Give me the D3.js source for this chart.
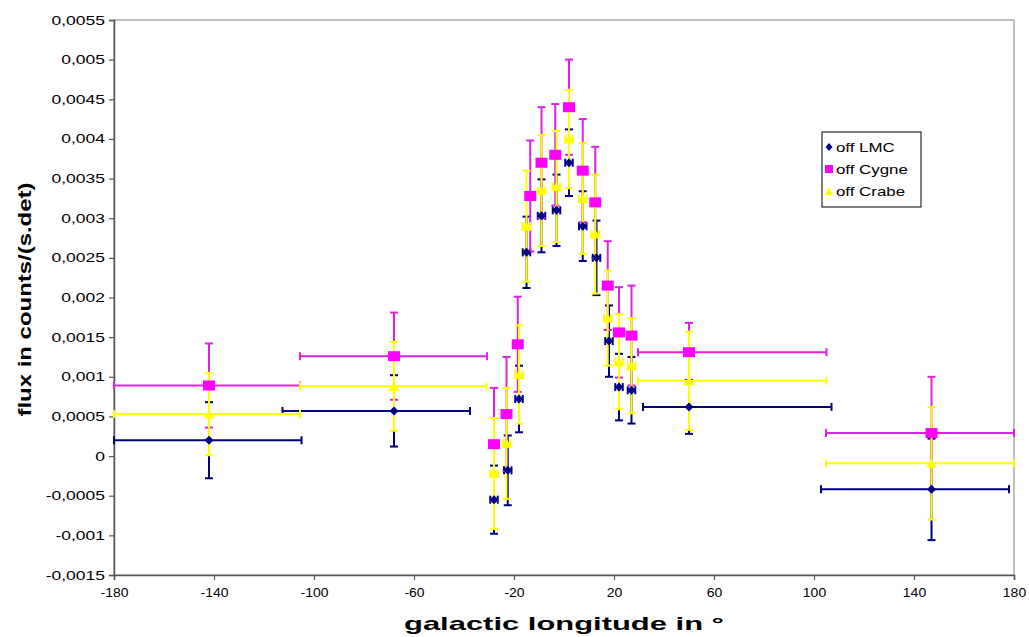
<!DOCTYPE html>
<html><head><meta charset="utf-8">
<script src="https://cdn.jsdelivr.net/npm/d3@7"></script>
<style>body{margin:0;background:#fff;} svg{display:block;}</style>
</head><body>
<svg id="chart" width="1029" height="637"></svg>
<script>
// ---- data ----
const seriesNames = ["off LMC", "off Cygne", "off Crabe"];
const xTickValues = [-180, -140, -100, -60, -20, 20, 60, 100, 140, 180];
const xTickLabels = ["-180", "-140", "-100", "-60", "-20", "20", "60", "100", "140", "180"];
const yTickValues = [-0.0015, -0.001, -0.0005, 0, 0.0005, 0.001, 0.0015, 0.002, 0.0025, 0.003, 0.0035, 0.004, 0.0045, 0.005, 0.0055];
const yTickLabels = ["-0,0015", "-0,001", "-0,0005", "0", "0,0005", "0,001", "0,0015", "0,002", "0,0025", "0,003", "0,0035", "0,004", "0,0045", "0,005", "0,0055"];

// off LMC
const lmcX    = [-142, -68, -28, -22.5, -18, -15, -9, -3, 2, 7.5, 13, 18, 22, 27, 50, 147];
const lmcXLo  = [-180, -112.6, -29.5, -24, -19.5, -16.5, -10.5, -4.5, 0.5, 6, 11.5, 16.5, 20.5, 25.5, 31.6, 102.8];
const lmcXHi  = [-105, -37.6, -26.5, -21, -16.5, -13.5, -7.5, -1.5, 3.5, 9, 14.5, 19.5, 23.5, 28.5, 107, 178];
const lmcY    = [0.0002, 0.00057, -0.00055, -0.00018, 0.00072, 0.00257, 0.00303, 0.0031, 0.0037, 0.0029, 0.0025, 0.00145, 0.00087, 0.00083, 0.00062, -0.00042];
const lmcYErr = [0.00048, 0.00045, 0.00043, 0.00044, 0.00042, 0.00045, 0.00046, 0.00045, 0.00042, 0.00044, 0.00047, 0.00045, 0.00042, 0.00042, 0.00034, 0.00064];

// off Cygne
const cygX    = [-142, -68, -28, -23, -18.5, -13.5, -9, -3.5, 2, 7.5, 12.5, 17.5, 22, 27, 50, 147];
const cygXLo  = [-180, -105.6, -29.5, -24.5, -20, -15, -10.5, -5, 0.5, 6, 11, 16, 20.5, 25.5, 29.6, 104.8];
const cygXHi  = [-105.6, -30.8, -26.5, -21.5, -17, -12, -7.5, -2, 3.5, 9, 14, 19, 23.5, 28.5, 105, 180];
const cygY    = [0.00089, 0.00126, 0.00015, 0.00053, 0.00141, 0.00328, 0.0037, 0.0038, 0.0044, 0.0036, 0.0032, 0.00215, 0.00156, 0.00152, 0.00131, 0.00029];
const cygYErr = [0.00053, 0.00055, 0.00071, 0.00072, 0.0006, 0.0007, 0.0007, 0.00064, 0.0006, 0.00065, 0.0007, 0.00056, 0.00057, 0.00063, 0.00037, 0.00071];

// off Crabe
const crbX    = [-142, -68, -28, -23, -18, -15, -9, -3, 2, 7.5, 12.5, 17.5, 22, 27, 50, 147];
const crbXLo  = [-180, -105.6, -29.5, -24.5, -19.5, -16.5, -10.5, -4.5, 0.5, 6, 11, 16, 20.5, 25.5, 29.6, 104.8];
const crbXHi  = [-105.6, -31, -26.5, -21.5, -16.5, -13.5, -7.5, -1.5, 3.5, 9, 14, 19, 23.5, 28.5, 105, 180];
const crbY    = [0.00053, 0.00088, -0.00022, 0.00016, 0.00103, 0.0029, 0.00335, 0.0034, 0.004, 0.00325, 0.0028, 0.00174, 0.00119, 0.00114, 0.00095, -0.00009];
const crbYErr = [0.00052, 0.00056, 0.0007, 0.0007, 0.00062, 0.0007, 0.0007, 0.0007, 0.00062, 0.0007, 0.00075, 0.0006, 0.0006, 0.0006, 0.00062, 0.00071];

// ---- build ----
function rows(xs, lo, hi, ys, err) {
  return xs.map((x, i) => ({x, xlo: lo[i], xhi: hi[i], y: ys[i], e: err[i]}));
}
const series = [
  {name: seriesNames[0], color: "#000080", bar: "#000080", shape: "diamond", data: rows(lmcX, lmcXLo, lmcXHi, lmcY, lmcYErr)},
  {name: seriesNames[1], color: "#FF00FF", bar: "#E020E0", shape: "square", data: rows(cygX, cygXLo, cygXHi, cygY, cygYErr)},
  {name: seriesNames[2], color: "#FFFF00", bar: "#FFFF00", shape: "triangle", data: rows(crbX, crbXLo, crbXHi, crbY, crbYErr)}
];

const svg = d3.select("#chart");
const L = 114, R = 1014, T = 20, B = 575;
const x = d3.scaleLinear().domain([-180, 180]).range([L, R]);
const y = d3.scaleLinear().domain([-0.0015, 0.0055]).range([B, T]);
const FONT = "'Liberation Sans', Arial, sans-serif";

// plot border
svg.append("rect").attr("x", L).attr("y", T).attr("width", R - L).attr("height", B - T)
  .attr("fill", "none").attr("stroke", "#808080").attr("stroke-width", 1);

// axes
const yAxis = d3.axisLeft(y).tickValues(yTickValues).tickSize(5).tickFormat((d, i) => yTickLabels[i]);
const gy = svg.append("g").attr("transform", `translate(${L},0)`).call(yAxis);
gy.select(".domain").attr("stroke", "#555").attr("stroke-width", 1.5);
gy.selectAll(".tick line").attr("stroke", "#555").attr("stroke-width", 1.2);
gy.selectAll(".tick text").attr("font-family", FONT).attr("font-size", 12.5).attr("fill", "#000")
  .attr("x", 0).attr("text-anchor", "end")
  .attr("transform", "translate(-9,0) scale(1.4,1)");

const xAxis = d3.axisBottom(x).tickValues(xTickValues).tickSize(5).tickFormat((d, i) => xTickLabels[i]);
const gx = svg.append("g").attr("transform", `translate(0,${B})`).call(xAxis);
gx.select(".domain").attr("stroke", "#555").attr("stroke-width", 1.5);
gx.selectAll(".tick line").attr("stroke", "#555").attr("stroke-width", 1.2);
gx.selectAll(".tick text").attr("font-family", FONT).attr("font-size", 12.5).attr("fill", "#000")
  .attr("y", 0).attr("dy", "0")
  .attr("transform", "translate(0,22) scale(1.12,1)");

// axis titles
svg.append("text").attr("x", (L + R) / 2).attr("y", 630).attr("text-anchor", "middle")
  .attr("font-family", FONT).attr("font-weight", "bold").attr("font-size", 19)
  .attr("textLength", 320).attr("lengthAdjust", "spacingAndGlyphs")
  .text("galactic longitude in °");
svg.append("text").attr("transform", `translate(31,${(T + B) / 2 + 2}) rotate(-90)`).attr("text-anchor", "middle")
  .attr("font-family", FONT).attr("font-weight", "bold").attr("font-size", 18)
  .attr("textLength", 234).attr("lengthAdjust", "spacingAndGlyphs")
  .text("flux in counts/(s.det)");

// error bars
const cap = 4;
series.forEach(s => {
  const g = svg.append("g").attr("stroke", s.bar).attr("stroke-width", 2).attr("fill", "none");
  s.data.forEach(d => {
    const cx = x(d.x), cy = y(d.y);
    const y0 = y(d.y - d.e), y1 = y(d.y + d.e);
    const x0 = x(d.xlo), x1 = x(d.xhi);
    g.append("line").attr("x1", cx).attr("x2", cx).attr("y1", y0).attr("y2", y1);
    g.append("line").attr("x1", cx - cap).attr("x2", cx + cap).attr("y1", y0).attr("y2", y0);
    g.append("line").attr("x1", cx - cap).attr("x2", cx + cap).attr("y1", y1).attr("y2", y1);
    g.append("line").attr("x1", x0).attr("x2", x1).attr("y1", cy).attr("y2", cy);
    g.append("line").attr("x1", x0).attr("x2", x0).attr("y1", cy - cap).attr("y2", cy + cap);
    g.append("line").attr("x1", x1).attr("x2", x1).attr("y1", cy - cap).attr("y2", cy + cap);
  });
});

function markerPath(shape, w, h) {
  const a = w / 2, b = h / 2;
  if (shape === "diamond") return `M0,${-b}L${a},0L0,${b}L${-a},0Z`;
  if (shape === "square") return `M${-a},${-b}H${a}V${b}H${-a}Z`;
  return `M0,${-b}L${a},${b}H${-a}Z`;
}
const msize = {diamond: [9, 9], square: [12, 10], triangle: [11, 9]};
series.forEach(s => {
  const [w, h] = msize[s.shape];
  svg.append("g").selectAll("path").data(s.data).join("path")
    .attr("transform", d => `translate(${x(d.x)},${y(d.y)})`)
    .attr("d", markerPath(s.shape, w, h))
    .attr("fill", s.color);
});

// legend
const lg = svg.append("g");
lg.append("rect").attr("x", 822).attr("y", 132).attr("width", 99).attr("height", 75)
  .attr("fill", "#fff").attr("stroke", "#000").attr("stroke-width", 1);
series.forEach((s, i) => {
  const ly = 147 + i * 22;
  const [w, h] = s.shape === "diamond" ? [7, 8] : [8, 8];
  lg.append("path").attr("transform", `translate(829,${ly})`).attr("d", markerPath(s.shape, w, h)).attr("fill", s.color);
  lg.append("text").attr("x", 0).attr("y", 0)
    .attr("transform", `translate(836,${ly + 4.5}) scale(1.35,1)`)
    .attr("font-family", FONT).attr("font-size", 12.5).attr("fill", "#000").text(s.name);
});
</script>
</body></html>
